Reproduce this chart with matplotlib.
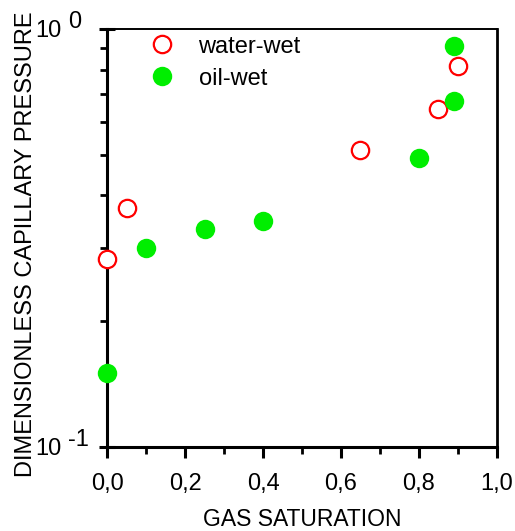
import numpy as np
import matplotlib
matplotlib.use('Agg')
import matplotlib.pyplot as plt
from matplotlib.ticker import FixedLocator, FixedFormatter, LogLocator, NullFormatter

plt.rcParams['font.family'] = ['Liberation Sans', 'DejaVu Sans']

# water-wet (open red circles)
waterSat = [0.0, 0.05, 0.65, 0.85, 0.90]
waterPc = [0.281, 0.374, 0.514, 0.644, 0.816]
# oil-wet (filled green circles)
oilSat = [0.0, 0.10, 0.25, 0.40, 0.80, 0.89, 0.89]
oilPc = [0.150, 0.300, 0.332, 0.347, 0.491, 0.672, 0.911]

xTicks = [0.0, 0.2, 0.4, 0.6, 0.8, 1.0]
xTickLabels = ['0,0', '0,2', '0,4', '0,6', '0,8', '1,0']
yTicks = [0.1, 1.0]
yTickBase = ['10', '10']
yTickExp = ['-1', '0']

fs = 17

fig = plt.figure(figsize=(5.15, 5.31), dpi=100)
ax = fig.add_axes([0.2078, 0.1582, 0.7572, 0.7872])

ax.plot(waterSat, waterPc, 'o', mfc='white', mec='#ff0000', mew=1.6, ms=12.5,
        label='water-wet', clip_on=False, zorder=3)
ax.plot(oilSat, oilPc, 'o', mfc='#00ee00', mec='#00ee00', mew=0, ms=14,
        label='oil-wet', clip_on=False, zorder=3)

ax.set_yscale('log')
ax.set_xlim(0, 1)
ax.set_ylim(0.1, 1.0)

ax.xaxis.set_major_locator(FixedLocator(xTicks))
ax.xaxis.set_major_formatter(FixedFormatter(xTickLabels))
ax.xaxis.set_minor_locator(FixedLocator([0.1, 0.3, 0.5, 0.7, 0.9]))
ax.yaxis.set_major_locator(FixedLocator(yTicks))
ax.yaxis.set_major_formatter(FixedFormatter(yTickBase))
ax.yaxis.set_minor_locator(LogLocator(base=10, subs=np.arange(2, 10)))
ax.yaxis.set_minor_formatter(NullFormatter())

ax.tick_params(which='both', direction='out', top=False, right=False, labelsize=fs)
ax.tick_params(which='major', length=8, width=2.2)
ax.tick_params(which='minor', length=5, width=2.0)
ax.tick_params(axis='y', which='major', direction='inout', length=11)
ax.tick_params(axis='x', which='major', pad=11)
ax.tick_params(axis='y', which='major', pad=27)

# exponents drawn at the same size as the base, raised
for yt, e in zip(yTicks, yTickExp):
    ax.annotate(e, xy=(0, yt), xycoords=('axes fraction', 'data'),
                xytext=(-28, 0.5), textcoords='offset points',
                ha='left', va='baseline', fontsize=fs, annotation_clip=False)

for s in ['left', 'bottom']:
    ax.spines[s].set_linewidth(2.2)
ax.spines['right'].set_linewidth(2.0)
ax.spines['top'].set_linewidth(1.4)

ax.set_xlabel('GAS SATURATION', fontsize=16.5, labelpad=9)
ax.set_ylabel('DIMENSIONLESS CAPILLARY PRESSURE', fontsize=fs)
ax.yaxis.set_label_coords(-0.18, 0.486)

ax.legend(loc='upper left', bbox_to_anchor=(0.05, 1.035), frameon=False, fontsize=fs,
          handletextpad=0.95, labelspacing=0.42, handlelength=1.2)

fig.savefig('out.png', dpi=100)
